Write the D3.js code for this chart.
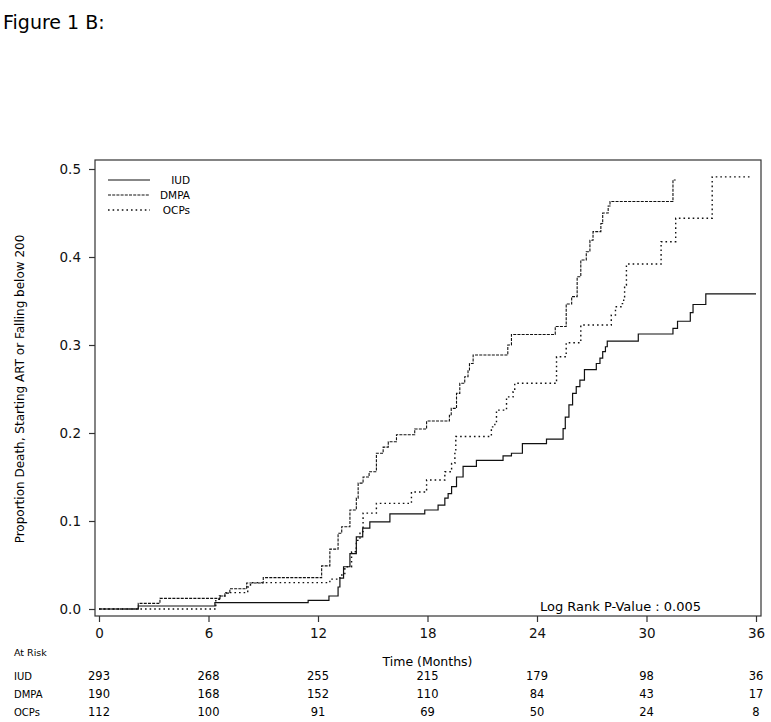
<!DOCTYPE html>
<html>
<head>
<meta charset="utf-8">
<script src="https://cdn.jsdelivr.net/npm/d3@7"></script>
<style>
  body { margin: 0; background: #fff; }
  svg { display: block; font-family: "DejaVu Sans", sans-serif; }
</style>
</head>
<body>
<svg id="chart" width="771" height="722"></svg>
<script>
// step points: [month, cumulative proportion]
const iud = [[0,0],[2.15,0.0034],[6.35,0.0072],[11.46,0.0099],[12.6,0.0148],[13.1,0.025],[13.2,0.035],
  [13.4,0.048],[13.75,0.063],[14.1,0.082],[14.45,0.092],[14.84,0.099],[15.94,0.108],[17.85,0.1125],
  [18.58,0.118],[18.95,0.126],[19.13,0.131],[19.32,0.139],[19.59,0.15],[19.95,0.162],[20.68,0.169],
  [22.14,0.174],[22.6,0.177],[23.2,0.188],[24.52,0.193],[25.43,0.205],[25.55,0.218],[25.75,0.232],
  [25.95,0.245],[26.15,0.2527],[26.35,0.26],[26.6,0.272],[27.25,0.279],[27.45,0.285],[27.6,0.2925],
  [27.75,0.298],[27.85,0.3045],[29.55,0.3125],[31.45,0.319],[31.7,0.327],[32.4,0.3367],[32.55,0.346],
  [33.25,0.358],[36.0,0.358]];
const dmpa = [[0,0],[2.15,0.0064],[3.34,0.0121],[6.63,0.0148],[6.9,0.018],[7.17,0.023],[8.09,0.0295],
  [9.0,0.0356],[12.2,0.049],[12.65,0.068],[13.1,0.086],[13.3,0.0935],[13.75,0.1125],[14.1,0.126],
  [14.2,0.143],[14.47,0.15],[14.8,0.156],[15.2,0.177],[15.57,0.184],[15.85,0.19],[16.3,0.198],
  [17.3,0.2045],[17.95,0.2136],[19.2,0.22],[19.3,0.228],[19.59,0.245],[19.77,0.2565],[20.04,0.264],
  [20.22,0.2716],[20.3,0.279],[20.5,0.2886],[22.4,0.3],[22.6,0.312],[25.0,0.321],[25.6,0.3466],
  [25.9,0.355],[26.2,0.3776],[26.4,0.3966],[26.7,0.406],[26.9,0.419],[27.07,0.4288],[27.5,0.438],
  [27.6,0.45],[27.9,0.458],[28.0,0.463],[31.45,0.4875],[31.6,0.4875]];
const ocps = [[0,0],[6.4,0.011],[6.6,0.0148],[6.9,0.0186],[8.15,0.025],[8.3,0.03],[12.65,0.034],
  [13.2,0.0386],[13.47,0.048],[13.84,0.065],[14.1,0.078],[14.3,0.088],[14.47,0.109],[15.2,0.12],
  [17.12,0.133],[17.95,0.1466],[18.95,0.156],[19.32,0.1655],[19.5,0.18],[19.55,0.196],[21.5,0.207],
  [21.69,0.213],[21.78,0.226],[22.33,0.241],[22.69,0.247],[22.78,0.2565],[25.07,0.2867],[25.6,0.3026],
  [26.4,0.3227],[28.07,0.334],[28.3,0.3435],[28.6,0.347],[28.75,0.353],[28.8,0.368],[28.9,0.392],
  [30.8,0.4174],[31.6,0.444],[33.6,0.491],[35.65,0.491]];

const groups = ["IUD", "DMPA", "OCPs"];
const xTicks = [0, 6, 12, 18, 24, 30, 36];
const yTicks = [0, 0.1, 0.2, 0.3, 0.4, 0.5];
const atRisk = {
  IUD: [293, 268, 255, 215, 179, 98, 36],
  DMPA: [190, 168, 152, 110, 84, 43, 17],
  OCPs: [112, 100, 91, 69, 50, 24, 8]
};

const svg = d3.select("#chart");
const frame = { left: 95, right: 761, top: 160, bottom: 616 };

const x = d3.scaleLinear().domain([0, 36]).range([99, 756]);
const y = d3.scaleLinear().domain([0, 0.5]).range([609, 169]);

svg.append("text")
  .attr("x", 3).attr("y", 29)
  .style("font-size", "19px")
  .text("Figure 1 B:");

// frame
svg.append("rect")
  .attr("x", frame.left).attr("y", frame.top)
  .attr("width", frame.right - frame.left)
  .attr("height", frame.bottom - frame.top)
  .attr("fill", "none").attr("stroke", "#333").attr("stroke-width", 1.2);

// y axis
const yAxis = svg.append("g")
  .attr("transform", `translate(${frame.left},0)`)
  .call(d3.axisLeft(y).tickValues(yTicks).tickFormat(d3.format(".1f")).tickSize(6).tickPadding(8));
yAxis.select(".domain").remove();
yAxis.selectAll("line").attr("stroke", "#333").attr("stroke-width", 1.2);
yAxis.selectAll("text").style("font-size", "13.5px").style("font-family", "DejaVu Sans").attr("fill", "#111");

// x axis
const xAxis = svg.append("g")
  .attr("transform", `translate(0,${frame.bottom})`)
  .call(d3.axisBottom(x).tickValues(xTicks).tickSize(6).tickPadding(6));
xAxis.select(".domain").remove();
xAxis.selectAll("line").attr("stroke", "#333").attr("stroke-width", 1.2);
xAxis.selectAll("text").style("font-size", "13.5px").style("font-family", "DejaVu Sans").attr("fill", "#111");

svg.append("text")
  .attr("transform", `translate(24,${(y(0) + y(0.5)) / 2}) rotate(-90)`)
  .attr("text-anchor", "middle")
  .style("font-size", "12px")
  .text("Proportion Death, Starting ART or Falling below 200");

svg.append("text")
  .attr("x", (x(0) + x(36)) / 2).attr("y", 666)
  .attr("text-anchor", "middle")
  .style("font-size", "12.5px")
  .text("Time (Months)");

svg.append("text")
  .attr("x", 540).attr("y", 611)
  .style("font-size", "13px")
  .text("Log Rank P-Value : 0.005");

// curves
const styles = {
  IUD: { data: iud, dash: null, width: 1.2 },
  DMPA: { data: dmpa, dash: "3,1.2", width: 1.1 },
  OCPs: { data: ocps, dash: "1.6,3", width: 1.4 }
};
const line = d3.line().x(d => x(d[0])).y(d => y(d[1])).curve(d3.curveStepAfter);

groups.forEach(g => {
  svg.append("path")
    .datum(styles[g].data)
    .attr("d", line)
    .attr("fill", "none")
    .attr("stroke", "#111")
    .attr("stroke-width", styles[g].width)
    .attr("stroke-dasharray", styles[g].dash);
});

// legend
groups.forEach((g, i) => {
  const ly = 180 + i * 15;
  svg.append("line")
    .attr("x1", 108).attr("x2", 150).attr("y1", ly).attr("y2", ly)
    .attr("stroke", "#111")
    .attr("stroke-width", styles[g].width)
    .attr("stroke-dasharray", styles[g].dash);
  svg.append("text")
    .attr("x", 190).attr("y", ly + 4)
    .attr("text-anchor", "end")
    .style("font-size", "10.5px")
    .text(g);
});

// at-risk table
svg.append("text").attr("x", 14).attr("y", 656).style("font-size", "9.5px").text("At Risk");
groups.forEach((g, i) => {
  const ry = 680 + i * 18;
  svg.append("text").attr("x", 14).attr("y", ry).style("font-size", "10px").text(g);
  svg.selectAll(null)
    .data(atRisk[g])
    .enter().append("text")
    .attr("x", (d, j) => x(xTicks[j]))
    .attr("y", ry)
    .attr("text-anchor", "middle")
    .style("font-size", "11.5px")
    .text(d => d);
});
</script>
</body>
</html>
